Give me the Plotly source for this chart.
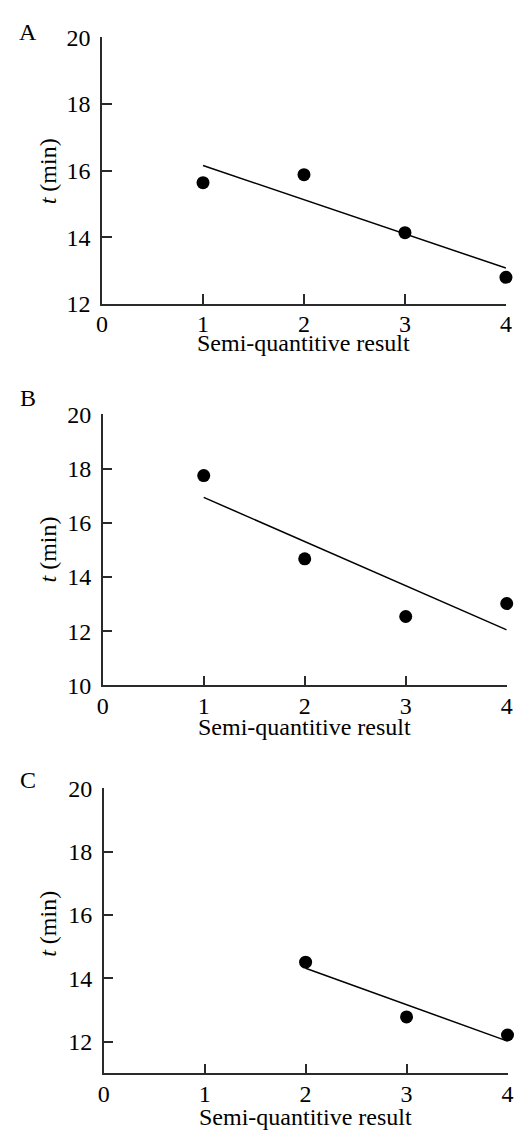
import numpy as np
import plotly.graph_objects as go

W, H = 522, 1143

# ---- data ----
panel_labels = ["A", "B", "C"]
xA = [1, 2, 3, 4]
yA = [15.64, 15.88, 14.14, 12.80]
xB = [1, 2, 3, 4]
yB = [17.74, 14.67, 12.54, 13.02]
xC = [2, 3, 4]
yC = [14.51, 12.78, 12.21]
x_ticks = [0, 1, 2, 3, 4]
y_ticks_A = [12, 14, 16, 18, 20]
y_ticks_B = [10, 12, 14, 16, 18, 20]
y_ticks_C = [12, 14, 16, 18, 20]
y_ranges = [[12, 20], [10, 20], [11, 20]]
x_title = "Semi-quantitive result"
y_title = "<i>t</i> (min)"

# pixel boxes of each plotting area: (left, right, top, bottom)
boxes = [(98.3, 511.7, 25.0, 297.7),
         (99.0, 512.5, 410.7, 688.0),
         (100.0, 513.3, 793.3, 1085.0)]
label_y = [19, 394, 785]
ytitle_y = [162, 549, 932]
xtitle_off = [24.5, 27.0, 29.5]

def px(x):
    return x / W

def py(y):
    return 1 - y / H

FONT = "Liberation Serif"
AX_COLOR = "#2a2a2a"

fig = go.Figure()
series = [(xA, yA, y_ticks_A), (xB, yB, y_ticks_B), (xC, yC, y_ticks_C)]

for i, ((xs, ys, yt), box, yr, lab) in enumerate(zip(series, boxes, y_ranges, panel_labels)):
    n = "" if i == 0 else str(i + 1)
    xa, ya = "x" + n, "y" + n
    slope, icpt = np.polyfit(xs, ys, 1)
    fx = [min(xs), max(xs)]
    fy = [slope * v + icpt for v in fx]
    fig.add_trace(go.Scatter(x=fx, y=fy, mode="lines", line=dict(color="black", width=1.5),
                             xaxis=xa, yaxis=ya, showlegend=False, cliponaxis=False))
    fig.add_trace(go.Scatter(x=xs, y=ys, mode="markers", marker=dict(color="black", size=13),
                             xaxis=xa, yaxis=ya, showlegend=False, cliponaxis=False))
    l, r, t, b = box
    common = dict(showline=True, linecolor=AX_COLOR, linewidth=1.5, ticks="inside",
                  ticklen=10, tickwidth=1.5, tickcolor=AX_COLOR, showgrid=False,
                  zeroline=False, tickfont=dict(family=FONT, size=24, color="black"))
    fig.layout["xaxis" + n] = dict(domain=[px(l), px(r)], range=[0, 4], tickvals=x_ticks,
                                  anchor=ya, ticklabelstandoff=-2, **common)
    fig.layout["yaxis" + n] = dict(domain=[py(b), py(t)], range=yr, tickvals=yt,
                                  anchor=xa, ticklabelstandoff=5, **common)
    # panel label
    fig.add_annotation(text=lab, x=px(23), y=py(label_y[i]), xref="paper", yref="paper",
                       showarrow=False, font=dict(family=FONT, size=24, color="black"),
                       xanchor="center", yanchor="middle")
    # x title
    fig.add_annotation(text=x_title, x=px((l + r) / 2), y=py(b + xtitle_off[i]),
                       xref="paper", yref="paper",
                       showarrow=False, font=dict(family=FONT, size=24, color="black"),
                       xanchor="center", yanchor="top")
    # y title
    fig.add_annotation(text=y_title, x=px(43), y=py(ytitle_y[i]), xref="paper", yref="paper",
                       showarrow=False, textangle=-90, font=dict(family=FONT, size=24, color="black"),
                       xanchor="center", yanchor="middle")

fig.update_layout(width=W, height=H, margin=dict(l=0, r=0, t=0, b=0),
                  font=dict(family=FONT, color="black"),
                  paper_bgcolor="white", plot_bgcolor="white")
fig.write_html("out.html")
